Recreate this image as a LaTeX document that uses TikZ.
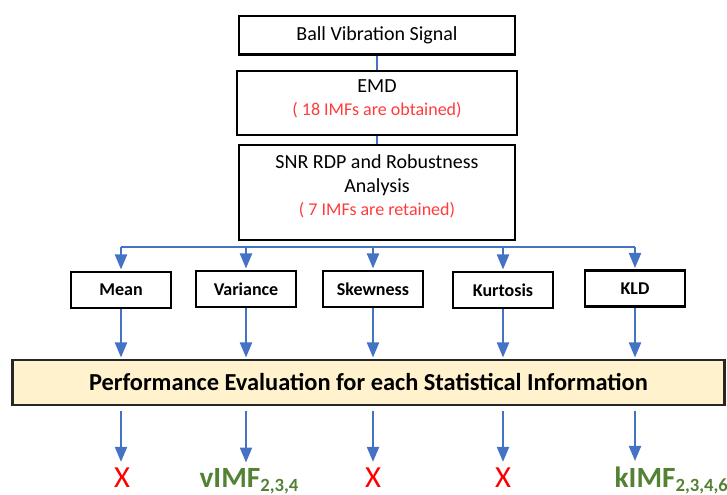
\documentclass[tikz,border=0pt]{standalone}
\usepackage{fontspec}
\setmainfont{Carlito}
\usepackage{tikz}
\usetikzlibrary{arrows, positioning}
\definecolor{flowblue}{HTML}{4472C4}
\definecolor{noteRed}{HTML}{FF3B3B}
\definecolor{xRed}{HTML}{FF0000}
\definecolor{okGreen}{HTML}{548235}
\definecolor{evalFill}{HTML}{FFF2CC}
\newcommand{\note}[1]{{\color{noteRed}\fontsize{13.5}{16}\selectfont #1}}
\newcommand{\idx}[1]{\raisebox{-3pt}{\fontsize{14}{14}\selectfont #1}}

\begin{document}
\begin{tikzpicture}[x=0.75pt, y=-0.75pt,
  every node/.style={font=\fontsize{15}{17.5}\selectfont},
  stage/.style={draw=black, line width=2pt, align=center, inner sep=2pt},
  stat/.style={draw=black, line width=2pt, minimum width=75pt, minimum height=27pt,
    font=\bfseries\fontsize{13.5}{16}\selectfont},
  link/.style={draw=flowblue, line width=1.6pt},
  flow/.style={link, -triangle 45, shorten >=1pt},
  fail/.style={text=xRed, anchor=base, inner sep=1pt, font=\fontsize{23}{26}\selectfont},
  pass/.style={text=okGreen, anchor=base west, inner sep=1pt, font=\bfseries\fontsize{22}{26}\selectfont}]
  \useasboundingbox (0,0) rectangle (727,495);

  \node[stage, minimum width=207pt, minimum height=29pt] (signal) at (377,35.5) {Ball Vibration Signal};
  \node[stage, minimum width=210pt, minimum height=48pt, text depth=8pt] (emd) at (377,103) {EMD\\ \note{( 18 IMFs are obtained)}};
  \node[stage, minimum width=207pt, minimum height=71pt, text depth=11pt] (snr) at (377,192.5) {SNR RDP and Robustness\\ Analysis\\ \note{( 7 IMFs are retained)}};
  \draw[link] (signal) -- (emd);
  \draw[link] (emd) -- (snr);

  \node[stat] (mean) at (121,290) {Mean};
  \node[stat] (variance) at (246,289) {Variance};
  \node[stat] (skewness) at (373,289) {Skewness};
  \node[stat] (kurtosis) at (503,290) {Kurtosis};
  \node[stat] (kld) at (635,288.5) {KLD};

  \node[draw=black!85, line width=2pt, fill=evalFill, minimum width=534pt, minimum height=33.75pt,
    font=\bfseries\fontsize{18.3}{21}\selectfont] (perf) at (368.5,382.5) {Performance Evaluation for each Statistical Information};

  \node[fail] (rmean) at (122,487) {X};
  \node[pass] (rvariance) at (198,487) {vIMF\idx{2,3,4}};
  \node[fail] (rskewness) at (373,487) {X};
  \node[fail] (rkurtosis) at (503,487) {X};
  \node[pass] (rkld) at (613,487) {kIMF\idx{2,3,4,6}};

  % bus under the retained IMFs
  \coordinate (bus) at (377,247);
  \draw[link] (bus -| mean) -- (bus -| kld);
  \foreach \s in {mean,variance,skewness,kurtosis,kld} {
    \draw[flow] (bus -| \s) -- (\s.north);
    \draw[flow] (\s.south) -- (\s.south |- perf.north);
    \draw[flow, shorten >=3pt] (perf.south -| \s) ++(0,5) -- (r\s.north -| \s);
  }
\end{tikzpicture}
\end{document}
